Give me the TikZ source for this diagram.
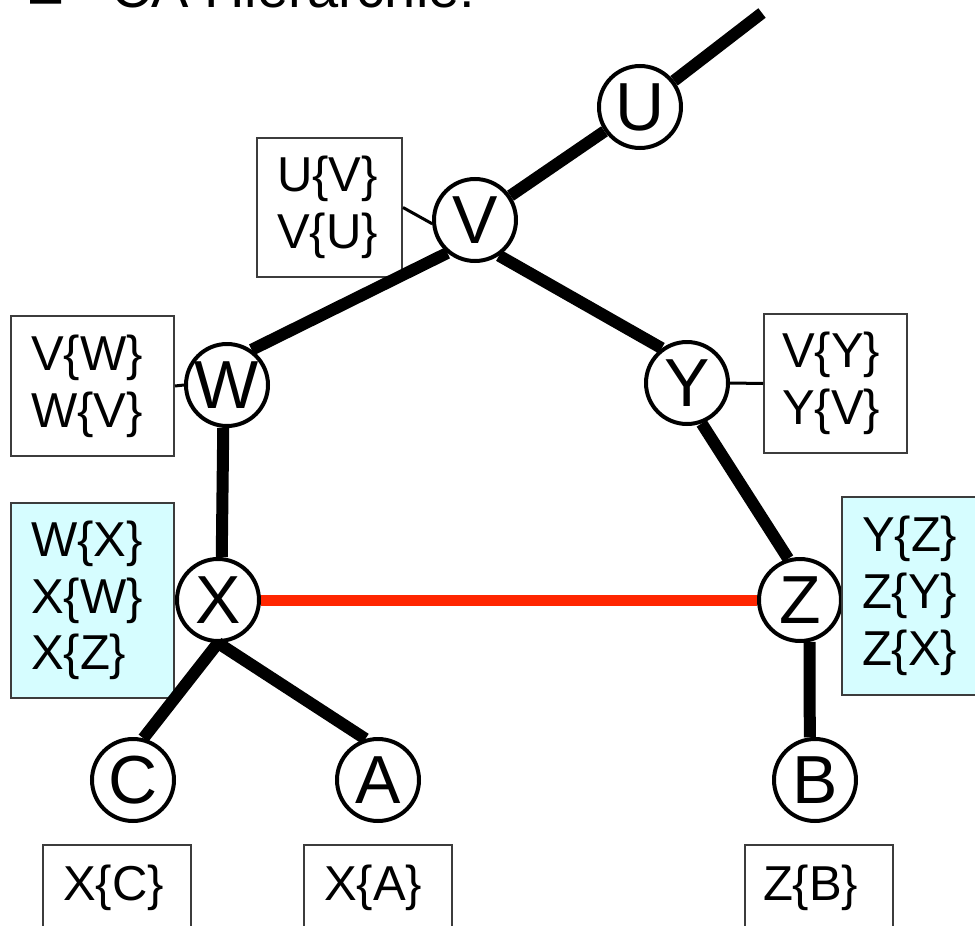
\documentclass[tikz,border=0pt]{standalone}
\usepackage{fontspec}
\setmainfont{Liberation Sans}
\definecolor{boxcyan}{RGB}{214,253,255}
\definecolor{edgered}{RGB}{255,38,0}
\definecolor{boxline}{RGB}{60,60,60}
\tikzset{
  vtx/.style={circle, draw=black, fill=white, line width=4pt, minimum size=82pt, inner sep=0pt,
              font=\fontsize{68}{68}\selectfont},
  tbl/.style={draw=boxline, line width=2pt, fill=white, inner xsep=20pt, inner ysep=2pt,
              align=left, font=\fontsize{49}{56.7}\selectfont},
  cyantbl/.style={tbl, fill=boxcyan},
  edge/.style={line width=12pt, black},
  redge/.style={line width=11pt, edgered},
  link/.style={line width=3pt, black},
}
\begin{document}
\begin{tikzpicture}[x=1pt,y=-1pt]
\useasboundingbox (0,0) rectangle (975,926);
% title (cut off at top, as in the reference)
\node[anchor=base west, inner sep=0pt, font=\fontsize{56}{60}\selectfont] (title) at (30,8)
  {\makebox[81pt][l]{\raisebox{-9pt}{–}}CA Hierarchie:};
% vertices
\node[vtx] (U) at (640,107) {U};
\node[vtx] (V) at (475,220) {V};
\node[vtx] (W) at (227,385) {W};
\node[vtx] (Y) at (687,383) {Y};
\node[vtx] (X) at (218,600) {X};
\node[vtx] (Z) at (800,600) {Z};
\node[vtx] (C) at (133,780) {C};
\node[vtx] (A) at (378,780) {A};
\node[vtx] (B) at (815,780) {B};
\coordinate (top) at (762,13);
% tables
\node[tbl, text width=105pt, minimum height=139pt] (bV) at (329.5,207.5) {U\{V\}\\V\{U\}};
\node[tbl, text width=123pt, minimum height=140pt] (bW) at (92.5,386) {V\{W\}\\W\{V\}};
\node[tbl, text width=107pt, minimum height=139pt, inner xsep=18pt] (bY) at (835.5,383.5) {V\{Y\}\\Y\{V\}};
\node[cyantbl, text width=123pt, minimum height=195pt] (bX) at (92.5,600.5) {W\{X\}\\X\{W\}\\X\{Z\}};
\node[cyantbl, text width=123pt, minimum height=198pt] (bZ) at (923.5,596) {Y\{Z\}\\Z\{Y\}\\Z\{X\}};
\node[tbl, text width=108pt, minimum height=85pt] (bC) at (117,887.5) {X\{C\}};
\node[tbl, text width=108pt, minimum height=85pt] (bA) at (378,887.5) {X\{A\}};
\node[tbl, text width=112pt, minimum height=85pt, inner xsep=18pt] (bB) at (819,887.5) {Z\{B\}};
% tree edges
\draw[edge] (U) -- (top);
\draw[edge] (V) -- (U);
\draw[edge] (V.230) -- (W.55);
\draw[edge] (V.-56) -- (Y.126);
\draw[edge] (W.-95) -- (X.85);
\draw[edge] (Y.290) -- (Z.106);
\draw[edge] (X.south) -- (C.76);
\draw[edge] (X.south) -- (A.107);
\draw[edge] (Z.-77) -- (B.97);
\draw[redge] (X) -- (Z);
% table links
\draw[link] (bV.east) -- (V.185);
\draw[link] (bW.east) -- (W.west);
\draw[link] (Y.east) -- (bY.west);
\end{tikzpicture}
\end{document}
